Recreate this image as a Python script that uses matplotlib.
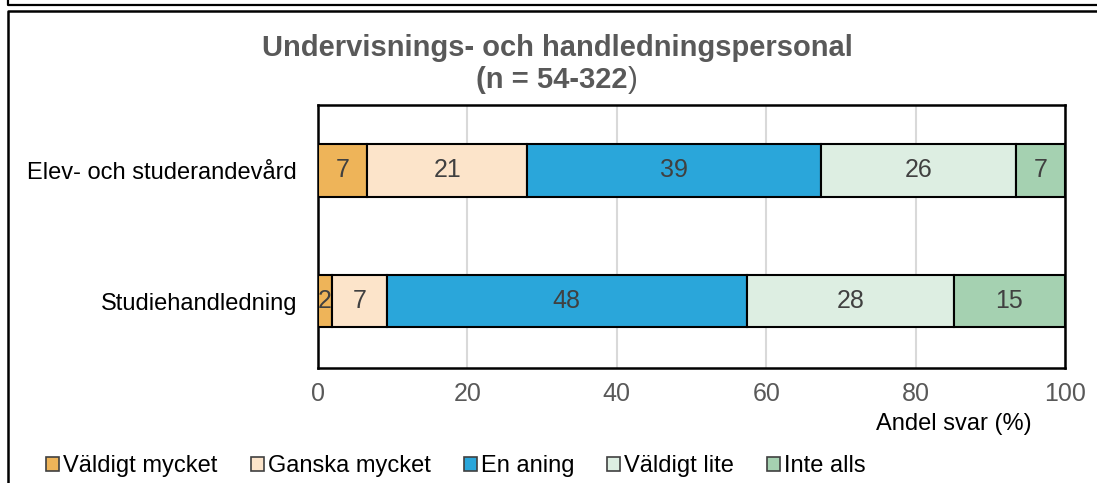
import matplotlib
matplotlib.use("Agg")
import matplotlib.pyplot as plt
from matplotlib.lines import Line2D
from matplotlib.patches import Patch

plt.rcParams["font.family"] = ["Liberation Sans", "DejaVu Sans"]

# Data
kategorier = ["Elev- och studerandevård", "Studiehandledning"]
svar = ["Väldigt mycket", "Ganska mycket", "En aning", "Väldigt lite", "Inte alls"]
andel = {
    "Väldigt mycket": [6.6, 1.9],
    "Ganska mycket": [21.4, 7.3],
    "En aning": [39.4, 48.2],
    "Väldigt lite": [26.0, 27.7],
    "Inte alls": [6.6, 14.9],
}
farger = ["#EEB459", "#FCE4CA", "#2AA6DA", "#DDEEE2", "#A5D1B1"]
ticks = [0, 20, 40, 60, 80, 100]

W, H = 1097, 483
fig = plt.figure(figsize=(W / 100, H / 100), dpi=100)
ax = fig.add_axes([318 / W, (H - 368) / H, 747 / W, 263 / H])

# staplar
y = list(range(len(kategorier)))
vanster = [0.0] * len(kategorier)
for s, c in zip(svar, farger):
    v = andel[s]
    ax.barh(y, v, left=vanster, height=0.4, color=c, edgecolor="black",
            linewidth=1.5, zorder=3)
    for i in range(len(y)):
        ax.text(vanster[i] + v[i] / 2, y[i], f"{round(v[i]):d}", ha="center",
                va="center", fontsize=18, color="#404040", zorder=4)
    vanster = [a + b for a, b in zip(vanster, v)]

ax.set_xlim(0, 100)
ax.set_ylim(1.51, -0.5)
ax.set_xticks(ticks)
ax.set_xticklabels([str(t) for t in ticks], fontsize=18, color="#595959")
ax.set_yticks(y)
ax.set_yticklabels(kategorier, fontsize=17, color="black")
ax.tick_params(axis="x", length=0, pad=10)
ax.tick_params(axis="y", length=0, pad=15)
ax.grid(axis="x", color="#D9D9D9", linewidth=1.5, zorder=0)
for sp in ax.spines.values():
    sp.set_linewidth(1.8)
    sp.set_color("black")

fig.text(1032 / W, 1 - 424 / H, "Andel svar (%)", ha="right", va="center",
         fontsize=17, color="black")

# titel
fig.text(557 / W, 1 - 48 / H, "Undervisnings- och handledningspersonal",
         ha="center", va="center", fontsize=21, fontweight="bold", color="#595959")
t2 = fig.text(552 / W, 1 - 80 / H, "(n = 54-322", ha="center", va="center",
              fontsize=21, fontweight="bold", color="#595959")
fig.canvas.draw()
bb = t2.get_window_extent()
fig.text(bb.x1 / W, 1 - 80 / H, ")", ha="left", va="center",
         fontsize=21, color="#595959")

# legend
handles = [Patch(facecolor=c, edgecolor="#404040", linewidth=1.2) for c in farger]
fig.legend(handles, svar, loc="center", bbox_to_anchor=(456 / W, 1 - 466 / H),
           ncol=5, frameon=False, fontsize=17, handlelength=0.55,
           handleheight=0.55, handletextpad=0.17, columnspacing=1.4)

# ramar
fig.add_artist(Line2D([8 / W, 8 / W, 1], [1, 1 - 5 / H, 1 - 5 / H],
                      color="black", linewidth=1.6))
fig.add_artist(Line2D([8 / W, 8 / W, 1], [0, 1 - 11 / H, 1 - 11 / H],
                      color="black", linewidth=1.8))

plt.savefig("out.png", dpi=100)
